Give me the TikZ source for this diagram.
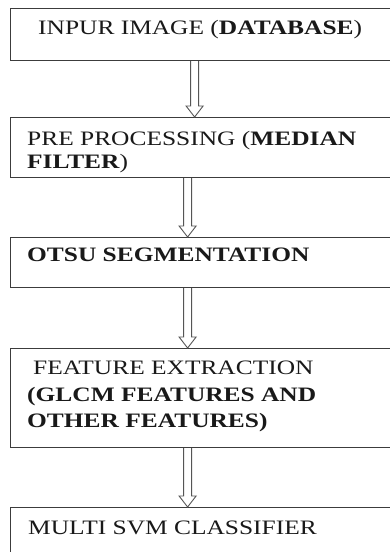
\documentclass[tikz,border=0pt]{standalone}
\usepackage{fontspec}
\setmainfont{Liberation Serif}[FakeStretch=1.24]
\usetikzlibrary{positioning,calc}
\definecolor{boxgray}{RGB}{60,60,60}
\definecolor{arrgray}{RGB}{85,85,85}
\definecolor{txtblack}{RGB}{25,25,25}

\tikzset{hollow/.style={to path={
    let \p1=(\tikztostart), \p2=(\tikztotarget) in
    (\x1-4pt,\y1) -- (\x1-4pt,\y2+11pt) -- (\x1-8.5pt,\y2+11pt) -- (\x1,\y2)
    -- (\x1+8.5pt,\y2+11pt) -- (\x1+4pt,\y2+11pt) -- (\x1+4pt,\y1)}}}

\begin{document}
\begin{tikzpicture}[x=1pt, y=1pt,
    box/.style={draw=boxgray, line width=1.2pt, anchor=north west, minimum width=390, inner sep=0},
    lbl/.style={anchor=north west, inner sep=0, align=left, text=txtblack,
        font=\fontsize{20.5}{26.5}\selectfont}]

    \clip (0,0) rectangle (390,-552);
    \fill[white] (0,0) rectangle (390,-552);

    % stages
    \node[box, minimum height=52] (b1) at (10,-8) {};
    \node[box, minimum height=60] (b2) at (10,-117) {};
    \node[box, minimum height=50] (b3) at (10,-237) {};
    \node[box, minimum height=99] (b4) at (10,-348) {};
    \node[box, minimum height=70] (b5) at (10,-507) {};

    \node[lbl] (t1) at ([shift={(28,-12)}]b1.north west) {INPUR IMAGE (\textbf{DATABASE})};
    \node[lbl, font=\fontsize{20.5}{23}\selectfont] (t2) at ([shift={(17,-14)}]b2.north west)
        {PRE PROCESSING (\textbf{MEDIAN}\\\textbf{FILTER})};
    \node[lbl] (t3) at ([shift={(17,-11)}]b3.north west) {\textbf{OTSU SEGMENTATION}};
    \node[lbl] (t4) at ([shift={(17,-13)}]b4.north west)
        {\hspace*{6pt}FEATURE EXTRACTION\\\textbf{(GLCM FEATURES AND}\\\textbf{OTHER FEATURES)}};
    \node[lbl] (t5) at ([shift={(18,-14)}]b5.north west) {MULTI SVM CLASSIFIER};

    % hollow arrows
    \foreach \a/\b/\dx in {b1/b2/-11pt, b2/b3/-18pt, b3/b4/-18pt, b4/b5/-18pt}
        \draw[arrgray, line width=0.9pt] ([xshift=\dx]\a.south) to[hollow] ([xshift=\dx]\b.north);

\end{tikzpicture}
\end{document}
